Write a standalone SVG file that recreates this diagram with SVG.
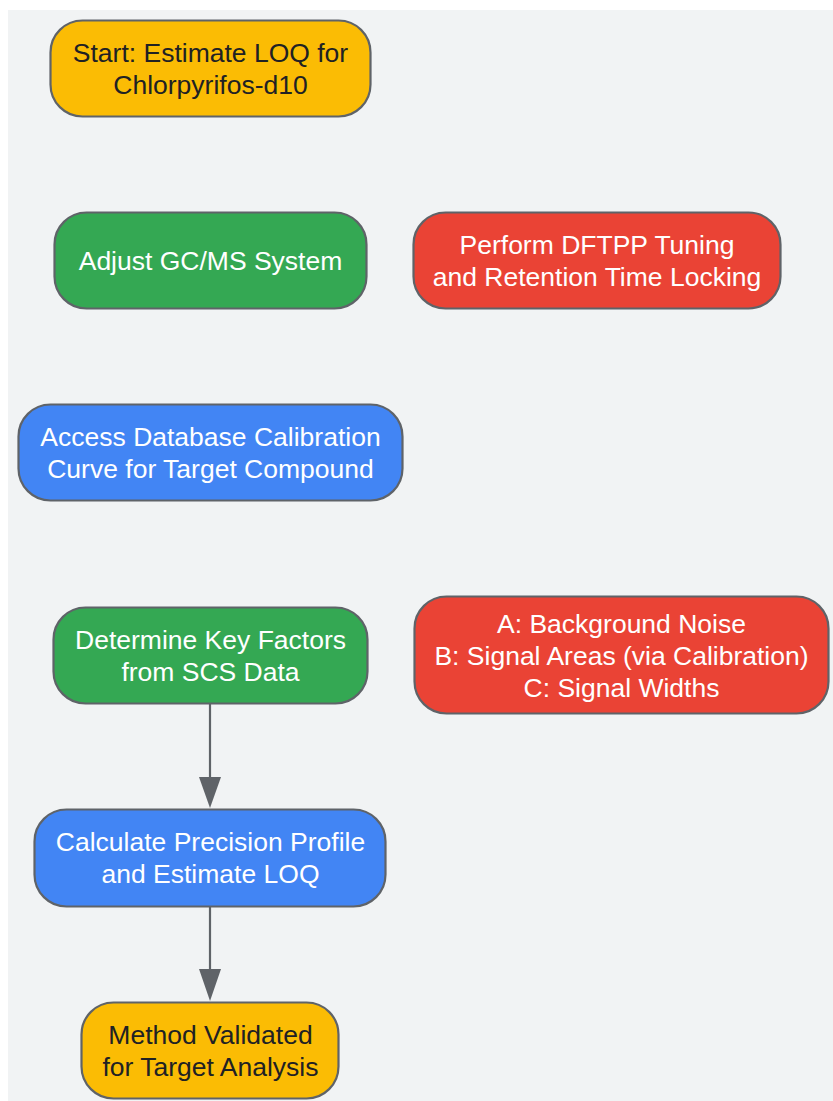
<svg xmlns="http://www.w3.org/2000/svg" width="833" height="1101" viewBox="0 0 833 1101">
<defs>
<style>
.n{stroke:#5f6368;stroke-width:2.2}
.y{fill:#fbbc04}.g{fill:#34a853}.r{fill:#ea4335}.b{fill:#4285f4}
text{font-family:"Liberation Sans",Arial,sans-serif;font-size:26.5px;text-anchor:middle}
.dk{fill:#202124}.wt{fill:#ffffff}
.e{stroke:#5f6368;stroke-width:2.2;fill:none}
</style>
</defs>
<rect x="8" y="10" width="825" height="1091" fill="#f1f3f4"/>
<g id="connectors">
<path class="e" d="M210,704 L210,777"/>
<path d="M199,777 L221,777 L210,808 Z" fill="#5f6368"/>
<path class="e" d="M210,907 L210,970"/>
<path d="M199,969 L221,969 L210,1001 Z" fill="#5f6368"/>
</g>
<g id="start">
<rect class="n y" x="50.5" y="20.5" width="320" height="96" rx="32"/>
<text class="dk" x="210.5" y="62">Start: Estimate LOQ for</text>
<text class="dk" x="210.5" y="94">Chlorpyrifos-d10</text>
</g>
<g id="adjust">
<rect class="n g" x="54.5" y="212.5" width="312" height="96" rx="32"/>
<text class="wt" x="210.5" y="270">Adjust GC/MS System</text>
</g>
<g id="perform">
<rect class="n r" x="413.5" y="212.5" width="367" height="96" rx="32"/>
<text class="wt" x="597" y="254">Perform DFTPP Tuning</text>
<text class="wt" x="597" y="286">and Retention Time Locking</text>
</g>
<g id="access">
<rect class="n b" x="18.5" y="404.5" width="384" height="96" rx="32"/>
<text class="wt" x="210.5" y="446">Access Database Calibration</text>
<text class="wt" x="210.5" y="478">Curve for Target Compound</text>
</g>
<g id="determine">
<rect class="n g" x="53.5" y="607.5" width="314" height="96" rx="32"/>
<text class="wt" x="210.5" y="649">Determine Key Factors</text>
<text class="wt" x="210.5" y="681">from SCS Data</text>
</g>
<g id="factors">
<rect class="n r" x="414.5" y="596.5" width="414" height="117" rx="32"/>
<text class="wt" x="621.5" y="633">A: Background Noise</text>
<text class="wt" x="621.5" y="665">B: Signal Areas (via Calibration)</text>
<text class="wt" x="621.5" y="697">C: Signal Widths</text>
</g>
<g id="calculate">
<rect class="n b" x="34.5" y="809.5" width="351" height="97" rx="32"/>
<text class="wt" x="210.5" y="851">Calculate Precision Profile</text>
<text class="wt" x="210.5" y="883">and Estimate LOQ</text>
</g>
<g id="validated">
<rect class="n y" x="81.5" y="1002.5" width="257" height="96" rx="32"/>
<text class="dk" x="210.5" y="1044">Method Validated</text>
<text class="dk" x="210.5" y="1076">for Target Analysis</text>
</g>
</svg>
